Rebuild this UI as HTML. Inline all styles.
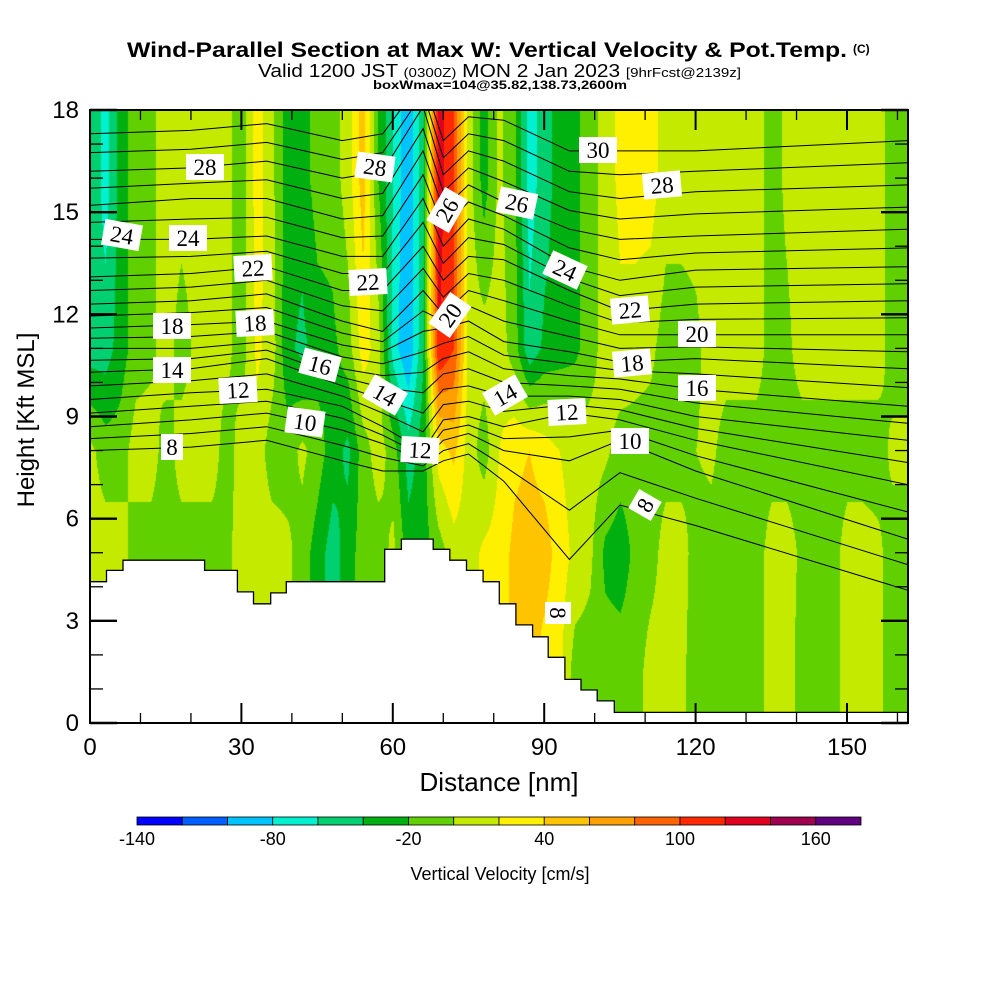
<!DOCTYPE html>
<html><head><meta charset="utf-8">
<style>
html,body{margin:0;padding:0;background:#fff;width:1000px;height:1000px;overflow:hidden;font-family:"Liberation Sans",Arial,sans-serif}
#wrap{position:relative;width:1000px;height:1000px}
#field{position:absolute;left:90px;top:110px}
#ov{position:absolute;left:0;top:0}
</style></head>
<body>
<div id="wrap">
<canvas id="field" width="818" height="613"></canvas>
<svg id="ov" width="1000" height="1000" xmlns="http://www.w3.org/2000/svg">
  <g font-weight="bold" fill="#000">
    <text x="127" y="57" font-size="21" textLength="720" lengthAdjust="spacingAndGlyphs">Wind-Parallel Section at Max W: Vertical Velocity &amp; Pot.Temp.</text>
    <text x="853" y="53" font-size="12">(C)</text>
  </g>
  <text x="258" y="77" font-size="18" textLength="483" lengthAdjust="spacingAndGlyphs">Valid 1200 JST <tspan font-size="13">(0300Z)</tspan> MON 2 Jan 2023 <tspan font-size="13">[9hrFcst@2139z]</tspan></text>
  <text x="373" y="89" font-size="12" font-weight="bold" textLength="254" lengthAdjust="spacingAndGlyphs">boxWmax=104@35.82,138.73,2600m</text>
  <g id="contours"></g>
  <g id="terrain"></g>
  <g id="clabels"></g>
  <g id="axes"></g>
  <text x="499" y="791" text-anchor="middle" font-size="26">Distance [nm]</text>
  <text transform="translate(34,420) rotate(-90)" text-anchor="middle" font-size="24">Height [Kft MSL]</text>
  <g id="cbar"></g>
  <text x="500" y="880" text-anchor="middle" font-size="18">Vertical Velocity [cm/s]</text>
</svg>
</div>
<script>
// ---- data ----
const gridHeights = [1.5, 5, 8, 11, 16]; // kft
const gridStepNm = 3; // columns at 0,3,...,162 nm
const wH15 = [10,10,10,-10,-10,-10,-10,-10,-10,-5, 10,10,10,5,-10,-30,-50,-30,-10,-10, 5,-30,-30,-10,10,10,25,30,45,50, 30,25,-10,-10,-10,-10,-10,10,10,5, -10,-10,-10,-10,-10,10,10,-10,-10,-10, 10,10,5,-10,-10];
const wH5 = [10,10,10,-10,-10,-10,-10,-10,-10,-5, 10,10,10,5,-10,-30,-50,-30,-10,-10, 5,-30,-30,-10,10,10,25,30,45,50, 50,30,15,5,-25,-30,-15,-10,10,10, -10,-10,-10,-10,-10,10,10,-5,-10,-10, 10,10,5,-10,-10];
const wH8 = [5,-10,-10,10,10,-10,10,10,10,-10, 10,10,-10,-10,5,-10,-30,-45,-10,10, -10,-50,-30,30,45,10,-10,20,35,40, 30,20,10,10,5,-10,-10,-10,-10,-10, 0,5,-10,-10,-10,-10,-10,-10,-10,-10, -10,-10,-10,5,5];
const wH11 = [-50,-50,-30,-10,-5,10,-10,5,10,5, -10,25,10,-35,-45,-30,-25,-10,30,10, -70,-100,-40,120,100,10,10,10,-10,-55, -35,-30,-25,-10,10,15,10,5,-10,-10, -5,10,10,10,10,-10,-5,10,10,10, 10,10,10,-10,-10];
const wH16 = [-40,-70,-30,-10,-5,10,10,10,10,5, -10,30,5,-30,-30,-10,-10,10,50,-20, -60,-100,-40,130,100,10,-30,5,-15,-70, -50,-30,-25,-10,10,25,30,30,10,10, 10,10,10,10,10,-10,5,10,10,10, 10,10,10,-10,-10];

const cbarTicks = [-140,-80,-20,40,100,160];
const cbarColors = ["#0000ff","#0060ff","#00c4ff","#00f0d0","#00d070","#00b010","#60d000","#c4ea00","#fff000","#ffc400","#ffa000","#ff6400","#ff2800","#e00020","#a00050","#600080"];

const thetaLevels = [8,10,12,14,16,18,20,22,24,26,28,30];
const thetaCtrlNm = [0,20,35,50,58,66,70,75,82,95,105,120,162];
const thN0   = [8.0,8.7,9.5,10.3,11.0,11.6,12.3,13.1,14.2,15.2,16.2,17.3];
const thN20  = [8.1,8.9,9.7,10.4,11.0,11.7,12.4,13.2,14.2,15.4,16.3,17.4];
const thN35  = [8.3,9.1,9.8,10.7,11.2,11.8,12.6,13.4,14.3,15.4,16.5,17.6];
const thN50  = [7.7,8.6,9.3,9.9,10.4,11.1,11.8,12.7,13.7,14.8,16.0,17.1];
const thN58  = [7.4,8.2,8.7,9.5,10.2,10.9,11.5,12.7,13.7,14.9,16.2,17.3];
const thN66  = [7.4,7.7,8.0,9.1,10.3,11.5,12.7,14.0,15.4,16.8,18.1,18.9];
const thN70  = [7.7,8.3,8.9,9.8,10.7,11.6,12.0,13.0,14.0,15.1,16.1,17.1];
const thN75  = [7.9,8.5,9.0,9.9,10.9,11.8,12.7,13.7,14.8,15.8,16.8,17.8];
const thN82  = [7.1,8.0,8.7,9.6,10.4,11.2,12.4,13.6,14.5,15.3,16.5,17.7];
const thN95  = [4.8,7.7,9.1,9.6,10.2,10.9,11.8,12.7,13.4,14.5,15.6,16.8];
const thN105 = [6.4,8.3,8.9,9.5,10.1,10.6,11.4,12.1,13.0,14.2,15.4,16.8];
const thN120 = [5.8,7.4,8.3,9.0,9.8,10.7,11.4,12.3,13.3,14.3,15.6,16.8];
const thN162 = [3.9,5.4,7.0,8.3,9.3,10.4,11.4,12.4,13.4,14.5,15.8,17.1];

const terrainNm = [0,3.27,6.54,22.7,29.2,32.4,35.8,38.9,58.4,61.7,68.0,71.3,74.6,77.9,81.1,84.4,87.7,90.8,94.1,97.3,100.5,103.9];
const terrainKft = [4.15,4.48,4.78,4.48,3.85,3.5,3.82,4.15,5.1,5.4,5.1,4.78,4.48,4.15,3.5,2.88,2.53,1.93,1.28,0.97,0.65,0.31];

const xTicks = [0,30,60,90,120,150];
const yTicks = [0,3,6,9,12,15,18];

// ---- scales ----
const X0=90, X1=908, Y0=723, Y1=110;
const xS = nm => X0 + nm*(847-90)/150;
const yS = k => Y0 - k*(Y0-Y1)/18;
const NS="http://www.w3.org/2000/svg";
function mk(tag, attrs, parent){const e=document.createElementNS(NS,tag);for(const k in attrs)e.setAttribute(k,attrs[k]);parent.appendChild(e);return e;}

// ---- field ----
const rows=[wH15,wH5,wH8,wH11,wH16];
function wAt(nm,h){
  let c=nm/gridStepNm; let i=Math.floor(c); if(i>=wH5.length-1){i=wH5.length-2;} if(i<0)i=0; let fx=Math.min(1,Math.max(0,c-i));
  let r=0; while(r<gridHeights.length-2 && h>gridHeights[r+1]) r++;
  let fy=(h-gridHeights[r])/(gridHeights[r+1]-gridHeights[r]); fy=Math.min(1,Math.max(0,fy));
  const a=rows[r][i]*(1-fx)+rows[r][i+1]*fx, b=rows[r+1][i]*(1-fx)+rows[r+1][i+1]*fx;
  return a*(1-fy)+b*fy;
}
function hex(c){return [parseInt(c.substr(1,2),16),parseInt(c.substr(3,2),16),parseInt(c.substr(5,2),16)];}
const rgb=cbarColors.map(hex);
(function(){
  const cv=document.getElementById('field');const ctx=cv.getContext('2d');
  const W=cv.width,H=cv.height;const img=ctx.createImageData(W,H);
  for(let py=0;py<H;py++){const h=(Y0-(py+110))*18/(Y0-Y1);
    for(let px=0;px<W;px++){const nm=(px)*150/(847-90);
      let v=wAt(nm,h);let b=Math.floor((v+140)/20);b=Math.max(0,Math.min(15,b));const c=rgb[b];
      const o=(py*W+px)*4;img.data[o]=c[0];img.data[o+1]=c[1];img.data[o+2]=c[2];img.data[o+3]=255;}}
  ctx.putImageData(img,0,0);
})();

// ---- contours ----
const thCols=[thN0,thN20,thN35,thN50,thN58,thN66,thN70,thN75,thN82,thN95,thN105,thN120,thN162];
(function(){
  const g=document.getElementById('contours');
  mk('clipPath',{id:'pc'},g); const cp=g.lastChild; mk('rect',{x:X0,y:Y1,width:X1-X0,height:Y0-Y1},cp);
  const lv=[];
  for(let j=0;j<thetaLevels.length;j++){
    lv.push({t:thetaLevels[j],hs:thCols.map(c=>c[j])});
    if(j<thetaLevels.length-1) lv.push({t:thetaLevels[j]+1,hs:thCols.map(c=>(c[j]+c[j+1])/2)});
  }
  lv.forEach(L=>{
    let d='';
    L.hs.forEach((h,i)=>{d+=(i?'L':'M')+xS(thetaCtrlNm[i]).toFixed(1)+' '+yS(h).toFixed(1)+' ';});
    const p=mk('path',{d:d,fill:'none',stroke:'#000','stroke-width':1,'clip-path':'url(#pc)'},g);
    
    
  });
})();

// ---- terrain ----
(function(){
  const g=document.getElementById('terrain');
  let d='M'+X0+' '+Y0;
  for(let i=0;i<terrainNm.length;i++){
    const x=xS(terrainNm[i]), xn=(i<terrainNm.length-1)?xS(terrainNm[i+1]):X1;
    d+=' L'+x.toFixed(1)+' '+yS(terrainKft[i]).toFixed(1)+' L'+xn.toFixed(1)+' '+yS(terrainKft[i]).toFixed(1);
  }
  d+=' L'+X1+' '+Y0+' Z';
  const p=mk('path',{d:d,fill:'#fff',stroke:'none'},g);
  
  
  let d2='M'+X0+' '+yS(terrainKft[0]).toFixed(1);
  for(let i=0;i<terrainNm.length;i++){
    const x=xS(terrainNm[i]), xn=(i<terrainNm.length-1)?xS(terrainNm[i+1]):X1;
    d2+=' L'+x.toFixed(1)+' '+yS(terrainKft[i]).toFixed(1)+' L'+xn.toFixed(1)+' '+yS(terrainKft[i]).toFixed(1);
  }
  const p2=mk('path',{d:d2,fill:'none',stroke:'#000','stroke-width':1.3},g);
  
  
})();

// ---- contour labels ----
const labelText=["28","24","24","22","18","18","14","12","8","10","16","28","22","14","12","26","20","26","24","14","12","30","28","22","20","18","16","10","8","8"];
const labelPos=[[205,167,0],[122,235,10],[188,238,0],[253,268,-3],[172,326,0],[255,323,-3],[172,370,0],[238,390,-3],[172,447,0],[305,422,8],[320,365,15],[375,167,8],[368,282,-3],[385,395,30],[420,450,3],[447,210,-60],[450,315,-55],[517,203,12],[565,270,25],[505,395,-30],[567,412,-3],[598,150,0],[662,185,-5],[630,310,-5],[697,334,0],[632,363,-5],[697,388,0],[630,441,0],[645,505,-60],[558,613,90]];
(function(){
  const g=document.getElementById('clabels');
  labelText.forEach((t,i)=>{
    const [x,y,r]=labelPos[i];
    const gg=mk('g',{transform:'translate('+x+','+y+') rotate('+r+')'},g);
    
    
    const w=t.length>1?38:22;
    mk('rect',{x:-w/2,y:-13,width:w,height:26,fill:'#fff'},gg);
    const tx=mk('text',{x:0,y:8,'text-anchor':'middle','font-size':23,'font-family':'Liberation Serif, serif',fill:'#000'},gg);
    tx.textContent=t;
  });
})();

// ---- axes ----
(function(){
  const g=document.getElementById('axes');
  const f=mk('rect',{x:X0,y:Y1,width:X1-X0,height:Y0-Y1,fill:'none',stroke:'#000','stroke-width':2},g);
  
  
  for(let nm=0;nm<=160;nm+=10){
    const x=xS(nm), L=(nm%30===0)?20:10;
    mk('line',{x1:x,y1:Y0,x2:x,y2:Y0-L,stroke:'#000','stroke-width':nm%30===0?2:1.3},g);
    mk('line',{x1:x,y1:Y1,x2:x,y2:Y1+L,stroke:'#000','stroke-width':nm%30===0?2:1.3},g);
  }
  for(let k=0;k<=18;k++){
    const y=yS(k), L=(k%3===0)?27:13;
    mk('line',{x1:X0,y1:y,x2:X0+L,y2:y,stroke:'#000','stroke-width':k%3===0?2.4:1.3},g);
    mk('line',{x1:X1,y1:y,x2:X1-L,y2:y,stroke:'#000','stroke-width':k%3===0?2.4:1.3},g);
  }
  xTicks.forEach(v=>{const t=mk('text',{x:xS(v),y:755,'text-anchor':'middle','font-size':24},g);t.textContent=v;
    
    });
  yTicks.forEach(v=>{const t=mk('text',{x:79,y:yS(v)+8,'text-anchor':'end','font-size':24},g);t.textContent=v;
    
    });
})();

// ---- colorbar ----
(function(){
  const g=document.getElementById('cbar');
  const cx0=137,cx1=861,w=(cx1-cx0)/cbarColors.length;
  cbarColors.forEach((c,i)=>{const r=mk('rect',{x:cx0+i*w,y:817,width:w,height:8,fill:c,stroke:'#000','stroke-width':0.8},g);
    
    });
  cbarTicks.forEach(v=>{const x=cx0+(v+140)/20*w;const t=mk('text',{x:x,y:845,'text-anchor':'middle','font-size':18},g);t.textContent=v;
    
    });
})();
</script>
</body></html>
